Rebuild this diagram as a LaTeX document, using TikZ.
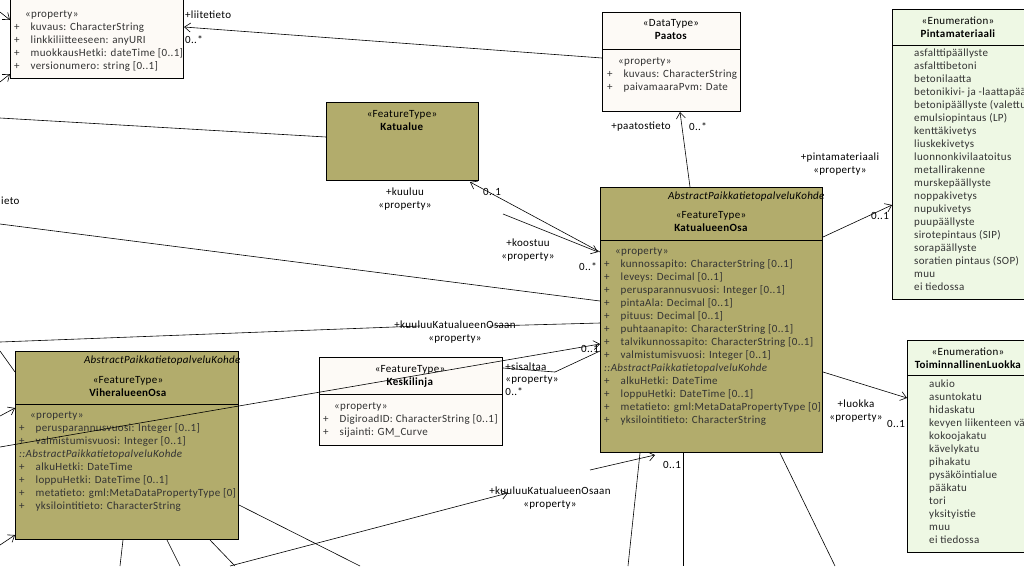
\documentclass[tikz,border=0pt]{standalone}
\usepackage{fontspec}
\setmainfont{Carlito}
\newfontfamily\umlfont{Carlito}[LetterSpace=3]
\usetikzlibrary{positioning,arrows.meta}
\definecolor{olivebox}{RGB}{178,172,108}
\definecolor{creambox}{RGB}{253,250,246}
\definecolor{enumbox}{RGB}{238,248,228}
\tikzset{
  cls/.style={draw=black, line width=1pt, anchor=north west, inner sep=0pt},
  feat/.style={cls, fill=olivebox},
  dtype/.style={cls, fill=creambox},
  enum/.style={cls, fill=enumbox},
  hd/.style={align=center, font=\umlfont\fontsize{11}{13}\selectfont, inner sep=0pt},
  attr/.style={align=left, anchor=north west, font=\umlfont\fontsize{11}{13}\selectfont, inner sep=0pt, text=black!80},
  lbl/.style={align=center, font=\umlfont\fontsize{11}{12.5}\selectfont, inner sep=1pt},
  assoc/.style={line width=0.6pt},
  nav/.style={assoc, -{Straight Barb[length=6pt,width=9pt]}}
}
\begin{document}
\begin{tikzpicture}[x=1pt,y=-1pt]
\useasboundingbox (0,0) rectangle (1024,566);
% boxes
\node[dtype, minimum width=173pt, minimum height=100pt] (liite) at (10,-22) {};
\node[dtype, minimum width=138pt, minimum height=99pt] (paatos) at (602,12) {};
\node[feat, minimum width=152pt, minimum height=78pt] (katualue) at (326,102) {};
\node[feat, minimum width=222pt, minimum height=265pt] (osa) at (600,187) {};
\node[feat, minimum width=223pt, minimum height=188pt] (viher) at (15,351) {};
\node[dtype, minimum width=183pt, minimum height=88pt] (keski) at (319,357) {};
\node[enum, minimum width=150pt, minimum height=290pt] (pinta) at (892,9) {};
\node[enum, minimum width=140pt, minimum height=212pt] (luokka) at (907,340) {};
% compartments
\draw[line width=0.8pt] (602,49) -- (740,49);
\draw[line width=0.8pt] (600,240) -- (822,240);
\draw[line width=0.8pt] (15,404) -- (238,404);
\draw[line width=0.8pt] (319,394) -- (502,394);
\draw[line width=0.8pt] (892,45) -- (1024,45);
\draw[line width=0.8pt] (907,375) -- (1024,375);
% headers
\node[hd] (paatosH) at (671,30) {«DataType»\\\textbf{Paatos}};
\node[hd] (katualueH) at (402,121) {«FeatureType»\\\textbf{Katualue}};
\node[hd, anchor=east] (osaA) at (825,197) {\textit{AbstractPaikkatietopalveluKohde}};
\node[hd] (osaH) at (711,222) {«FeatureType»\\\textbf{KatualueenOsa}};
\node[hd, anchor=east] (viherA) at (241,361) {\textit{AbstractPaikkatietopalveluKohde}};
\node[hd] (viherH) at (128,386) {«FeatureType»\\\textbf{ViheralueenOsa}};
\node[hd] (keskiH) at (410,376) {«FeatureType»\\\textbf{Keskilinja}};
\node[hd] (pintaH) at (958,27) {«Enumeration»\\\textbf{Pintamateriaali}};
\node[hd] (luokkaH) at (968,358) {«Enumeration»\\\textbf{ToiminnallinenLuokka}};
% attributes
\node[attr] (liiteT) at (14,10) {\quad«property»\\+\quad kuvaus: CharacterString\\+\quad linkkiliitteeseen: anyURI\\+\quad muokkausHetki: dateTime [0..1]\\+\quad versionumero: string [0..1]};
\node[attr] (paatosT) at (607,57) {\quad«property»\\+\quad kuvaus: CharacterString\\+\quad paivamaaraPvm: Date};
\node[attr] (osaT) at (604,247) {\quad«property»\\+\quad kunnossapito: CharacterString [0..1]\\+\quad leveys: Decimal [0..1]\\+\quad perusparannusvuosi: Integer [0..1]\\+\quad pintaAla: Decimal [0..1]\\+\quad pituus: Decimal [0..1]\\+\quad puhtaanapito: CharacterString [0..1]\\+\quad talvikunnossapito: CharacterString [0..1]\\+\quad valmistumisvuosi: Integer [0..1]\\\textit{::AbstractPaikkatietopalveluKohde}\\+\quad alkuHetki: DateTime\\+\quad loppuHetki: DateTime [0..1]\\+\quad metatieto: gml:MetaDataPropertyType [0]\\+\quad yksilointitieto: CharacterString};
\node[attr] (viherT) at (19,411) {\quad«property»\\+\quad perusparannusvuosi: Integer [0..1]\\+\quad valmistumisvuosi: Integer [0..1]\\\textit{::AbstractPaikkatietopalveluKohde}\\+\quad alkuHetki: DateTime\\+\quad loppuHetki: DateTime [0..1]\\+\quad metatieto: gml:MetaDataPropertyType [0]\\+\quad yksilointitieto: CharacterString};
\node[attr] (keskiT) at (323,402) {\quad«property»\\+\quad DigiroadID: CharacterString [0..1]\\+\quad sijainti: GM\_Curve};
\node[attr] (pintaT) at (914,49) {asfalttipäällyste\\asfalttibetoni\\betonilaatta\\betonikivi- ja -laattapäällyste\\betonipäällyste (valettu)\\emulsiopintaus (LP)\\kenttäkivetys\\liuskekivetys\\luonnonkivilaatoitus\\metallirakenne\\murskepäällyste\\noppakivetys\\nupukivetys\\puupäällyste\\sirotepintaus (SIP)\\sorapäällyste\\soratien pintaus (SOP)\\muu\\ei tiedossa};
\node[attr] (luokkaT) at (929,380) {aukio\\asuntokatu\\hidaskatu\\kevyen liikenteen väylä\\kokoojakatu\\kävelykatu\\pihakatu\\pysäköintialue\\pääkatu\\tori\\yksityistie\\muu\\ei tiedossa};
% connectors
\coordinate (eA) at (0,118);
\coordinate (eB) at (0,224);
\coordinate (eC) at (0,342);
\coordinate (eD) at (0,447);
\coordinate (eE) at (230,566);
\draw[nav] (602,58) -- (liite.east |- 0,27);
\draw[assoc] (katualue.west |- 0,137) -- (eA);
\draw[assoc] (eB) -- (osa.west |- 0,301);
\draw[nav] (osa.west |- 0,252) -- (470,182);
\draw[nav] (503,214) -- (598,252);
\draw[nav] (690,187) -- (paatos.south -| 680,0);
\draw[nav] (osa.east |- 0,237) -- (pinta.west |- 0,205);
\draw[nav] (osa.east |- 0,372) -- (luokka.west |- 0,398);
\draw[assoc] (eC) -- (420,326);
\draw[assoc] (490,326) -- (osa.west |- 0,323);
\draw[nav] (eD) -- (osa.west |- 0,344);
\draw[assoc] (keski.east |- 0,368) -- (555,372);
\draw[assoc] (555,372) -- (osa.west |- 0,351);
\draw[nav] (eE) -- (508,493);
\draw[nav] (590,470) -- (655,455);
\draw[assoc] (viher.east |- 0,505) -- (360,566);
\draw[assoc] (viher.south -| 123,0) -- (120,566);
\draw[assoc] (viher.south -| 167,0) -- (180,566);
\draw[assoc] (viher.south -| 210,0) -- (235,566);
\draw[assoc] (osa.south -| 640,0) -- (628,566);
\draw[assoc] (osa.south -| 683,0) -- (683,566);
\draw[assoc] (osa.south -| 780,0) -- (835,566);
\draw[nav] (0,12) -- (liite.west |- 0,20);
\draw[nav] (0,82) -- (liite.west |- 0,74);
\draw[assoc] (0,351) -- (viher.west |- 0,372);
\draw[nav] (0,416) -- (viher.west |- 0,408);
\draw[nav] (0,545) -- (viher.west |- 0,535);
% labels
\node[lbl, anchor=west] (lLiite) at (184,15) {+liitetieto};
\node[lbl, anchor=west] (mLiite) at (184,40) {0..*};
\node[lbl, anchor=west] (lTieto) at (0,201) {ieto};
\node[lbl] (lKuuluu) at (405,199) {+kuuluu\\«property»};
\node[lbl] (mKuuluu) at (492,192) {0..1};
\node[lbl] (lKoostuu) at (528,250) {+koostuu\\«property»};
\node[lbl] (mKoostuu) at (588,267) {0..*};
\node[lbl] (lPaatos) at (641,127) {+paatostieto};
\node[lbl] (mPaatos) at (698,127) {0..*};
\node[lbl] (lPinta) at (840,164) {+pintamateriaali\\«property»};
\node[lbl] (mPinta) at (880,216) {0..1};
\node[lbl] (lLuokka) at (856,411) {+luokka\\«property»};
\node[lbl] (mLuokka) at (896,424) {0..1};
\node[lbl] (lOsaan) at (455,332) {+kuuluuKatualueenOsaan\\«property»};
\node[lbl] (mOsaan) at (590,349) {0..1};
\node[lbl, align=left] (lSis) at (532,379) {+sisaltaa\\«property»\\0..*};
\node[lbl] (lOsaan2) at (550,498) {+kuuluuKatualueenOsaan\\«property»};
\node[lbl] (mOsaan2) at (672,465) {0..1};
\end{tikzpicture}
\end{document}
